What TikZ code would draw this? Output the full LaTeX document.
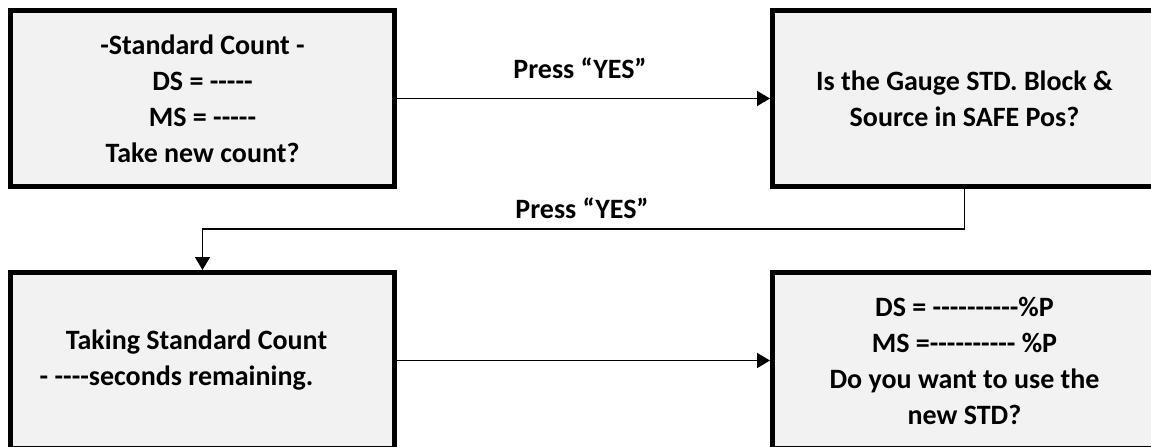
\documentclass[tikz,border=0pt]{standalone}
\usepackage{fontspec}
\setmainfont{Carlito}[Ligatures=TeXOff]
\usetikzlibrary{arrows.meta}
\definecolor{boxgrey}{HTML}{F2F2F2}
\begin{document}
\begin{tikzpicture}[x=1pt,y=-1pt,
  box/.style={draw=black, line width=5pt, fill=boxgrey, minimum width=384pt,
    minimum height=176pt, align=center, inner sep=0pt,
    font=\fontsize{28}{36}\selectfont\bfseries},
  lbl/.style={inner sep=0pt, font=\fontsize{28}{36}\selectfont\bfseries},
  arr/.style={line width=1.6pt, -{Triangle[length=13pt,width=15pt]}}]
\path[use as bounding box, clip] (0,0) rectangle (1151,447);
\fill[white] (0,0) rectangle (1151,447);
\node[box] (b1) at (202.5,98.5) {-Standard Count -\\DS = -----\\MS = -----\\Take new count?};
\node[box] (b2) at (964.5,98.5) {Is the Gauge STD. Block \&\\Source in SAFE Pos?};
\node[box] (b3) at (202.5,360.5) {\raisebox{-4pt}{Taking Standard Count\hspace*{12pt}}\\\raisebox{-4pt}{- ----seconds remaining.\hspace*{52pt}}};
\node[box] (b4) at (964.5,360.5) {DS = ----------\%P\\MS =---------- \%P\\Do you want to use the\\new STD?};
\coordinate (m) at (583,229);
\draw[arr] (b1.east) -- (b2.west);
\draw[arr] (b2.south) |- (m) -| (b3.north);
\draw[arr] (b3.east) -- (b4.west);
\node[lbl] (l1) at (580,68) {Press “YES”};
\node[lbl] (l2) at (582,208) {Press “YES”};
\end{tikzpicture}
\end{document}
